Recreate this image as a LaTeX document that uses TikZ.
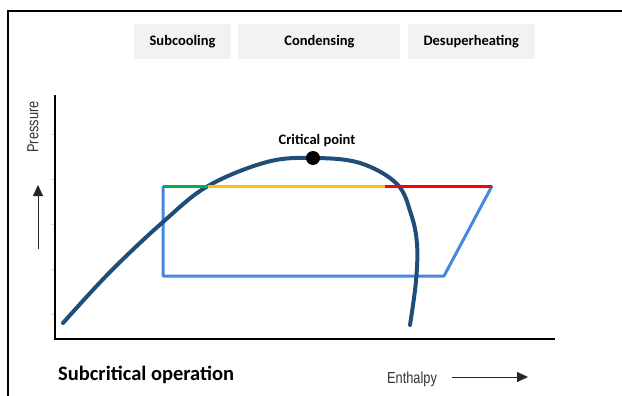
\documentclass[tikz,border=0pt]{standalone}
\usepackage{fontspec}
\setmainfont{Carlito}
\newfontfamily\arialfont{Liberation Sans}
\usetikzlibrary{arrows.meta, positioning}
\definecolor{domeblue}{RGB}{31,78,121}
\definecolor{cycleblue}{RGB}{70,136,220}
\definecolor{subgreen}{RGB}{0,176,80}
\definecolor{condyellow}{RGB}{255,192,0}
\definecolor{boxgray}{RGB}{242,242,242}

\begin{document}
\begin{tikzpicture}[
  x=1pt, y=-1pt,
  phase/.style={rectangle, fill=boxgray, minimum height=35pt, inner sep=0pt, font=\bfseries\fontsize{14.5}{14.5}\selectfont},
  axis/.style={line width=2pt, black},
  cycleline/.style={line width=3pt, cycleblue, line join=round},
  seg/.style={line width=3pt},
  arrow/.style={-{Triangle[length=11pt, width=10pt]}, line width=1pt, black!85},
  axislabel/.style={font=\arialfont\fontsize{16}{16}\selectfont, text=black!80, inner sep=0pt}
]
  \useasboundingbox (0,0) rectangle (622,396);

  % Frame
  \draw[line width=1.5pt] (8,396) -- (8,11) -- (622,11);

  % Phase boxes
  \node[phase, minimum width=97pt] (subcool) at (182.5,42) {Subcooling};
  \node[phase, minimum width=162pt, right=7pt of subcool] (cond) {Condensing};
  \node[phase, minimum width=127pt, right=7pt of cond] (desup) {Desuperheating};

  % Axes
  \coordinate (origin) at (55,339);
  \coordinate (ytop) at (55,95);
  \coordinate (xend) at (555,339);
  \foreach \y in {134,179,224,269,314}
    \draw[gray!30, line width=0.5pt] (51,\y) -- (55,\y);
  \draw[axis] (ytop) -- (origin) -- (xend);

  % Cycle
  \coordinate (sc) at (163,186);
  \coordinate (liq) at (208,186);
  \coordinate (vap) at (385,186);
  \coordinate (dis) at (492,186);
  \coordinate (suc) at (444,276);
  \coordinate (exv) at (163,276);
  \draw[cycleline] (dis) -- (suc) -- (exv) -- (sc);

  % Saturation dome
  \draw[domeblue, line width=4pt, line cap=round] plot[smooth, tension=0.6] coordinates {
    (63,323) (110,272) (163,222) (208,186) (267,162) (313,158) (360,163)
    (397,184) (411,214) (417,244) (416,281) (410,325)};

  \draw[seg, subgreen] (sc) -- (liq);
  \draw[seg, condyellow] (liq) -- (vap);
  \draw[seg, red] (vap) -- (dis);

  % Critical point
  \node[circle, fill=black, minimum size=14pt, inner sep=0pt] (crit) at (313,158) {};
  \node[font=\bfseries\fontsize{14.5}{14.5}\selectfont, inner sep=0pt] (critlabel) at (317,141) {Critical point};

  % Labels
  \node[axislabel, rotate=90] (pres) at (33,127) {\scalebox{0.8}[1]{Pressure}};
  \coordinate (ptail) at (38,249);
  \coordinate (ptip) at (38,185);
  \draw[arrow] (ptail) -- (ptip);

  \node[axislabel] (enth) at (412,379) {\scalebox{0.8}[1]{Enthalpy}};
  \coordinate (etail) at (452,377);
  \coordinate (etip) at (528,377);
  \draw[arrow] (etail) -- (etip);

  \node[font=\bfseries\fontsize{20.5}{20.5}\selectfont, anchor=base west, inner sep=0pt] (title) at (58,380) {Subcritical operation};
\end{tikzpicture}
\end{document}
